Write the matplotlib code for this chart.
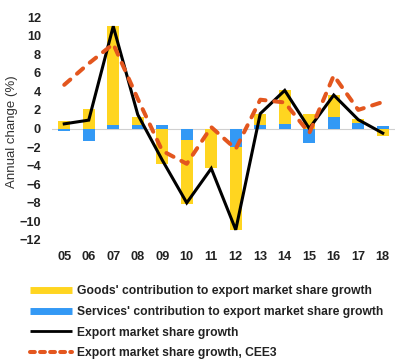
import matplotlib
matplotlib.use("Agg")
import matplotlib.pyplot as plt
from matplotlib.lines import Line2D
import numpy as np

plt.rcParams['font.family'] = ['Liberation Sans', 'DejaVu Sans']

years = ['05', '06', '07', '08', '09', '10', '11', '12', '13', '14', '15', '16', '17', '18']
goods = [0.8, 2.05, 10.6, 0.8, -3.8, -6.9, -4.2, -8.9, 1.2, 3.65, 1.6, 2.35, 0.4, -0.85]
services = [-0.3, -1.3, 0.4, 0.4, 0.35, -1.2, 0.0, -2.0, 0.4, 0.45, -1.55, 1.25, 0.6, 0.25]
ems = [0.5, 0.9, 11.0, 1.5, -3.4, -8.0, -4.3, -10.9, 1.6, 4.1, 0.0, 3.6, 0.95, -0.5]
cee3 = [4.7, 7.0, 9.1, 3.2, -2.4, -3.8, 0.15, -2.2, 3.1, 2.8, -0.5, 5.7, 2.0, 2.85]

labels = ["Goods' contribution to export market share growth",
          "Services' contribution to export market share growth",
          "Export market share growth",
          "Export market share growth, CEE3"]

c_goods = '#FFD520'
c_serv = '#3399F5'
c_ems = '#000000'
c_cee = '#E3561E'

fig = plt.figure(figsize=(4.02, 3.62), dpi=100)
ax = fig.add_axes([52/402, 1-240/362, 343/402, 223/362])

x = np.arange(len(years))
serv = np.array(services)
gd = np.array(goods)
gbottom = np.where(np.sign(gd) == np.sign(serv), serv, 0.0)

ax.axhline(0, color='#D0D0D0', lw=0.8, zorder=1)
ax.bar(x, serv, width=0.5, color=c_serv, zorder=2)
ax.bar(x, gd, width=0.5, bottom=gbottom, color=c_goods, zorder=2)
ax.plot(x, ems, color=c_ems, lw=2.2, zorder=3, solid_joinstyle='miter')
ax.plot(x, cee3, color=c_cee, lw=2.9, dashes=(2.0, 2.2), dash_capstyle='round', zorder=4)

ax.set_xlim(-0.5, len(years) - 0.5)
ax.set_ylim(-12, 12)
ax.set_yticks(np.arange(-12, 13, 2))
ax.set_xticks(x)
ax.set_xticklabels(years)
for s in ax.spines.values():
    s.set_visible(False)
ax.tick_params(axis='both', length=0, labelsize=9.2, colors='#222222')
ax.tick_params(axis='y', pad=8)
ax.tick_params(axis='x', pad=8)
for t in ax.get_xticklabels() + ax.get_yticklabels():
    t.set_fontweight('bold')
ax.set_ylabel('Annual change (%)', fontsize=9.5, color='#333333')
ax.yaxis.set_label_coords(-0.1, 0.485)

handles = [
    Line2D([], [], color=c_goods, lw=5, solid_capstyle='butt'),
    Line2D([], [], color=c_serv, lw=5, solid_capstyle='butt'),
    Line2D([], [], color=c_ems, lw=2.0, solid_capstyle='butt'),
    Line2D([], [], color=c_cee, lw=2.9, dashes=(1.2, 1.3), dash_capstyle='round'),
]
leg = fig.legend(handles, labels, loc='upper left', bbox_to_anchor=(30/402, 1-285/362),
                 frameon=False, borderpad=0, borderaxespad=0, handlelength=3.45,
                 handletextpad=0.4, labelspacing=0.73,
                 prop={'size': 8.7, 'weight': 'bold'})
for t in leg.get_texts():
    t.set_color('#222222')

fig.savefig('out.png', dpi=100)
